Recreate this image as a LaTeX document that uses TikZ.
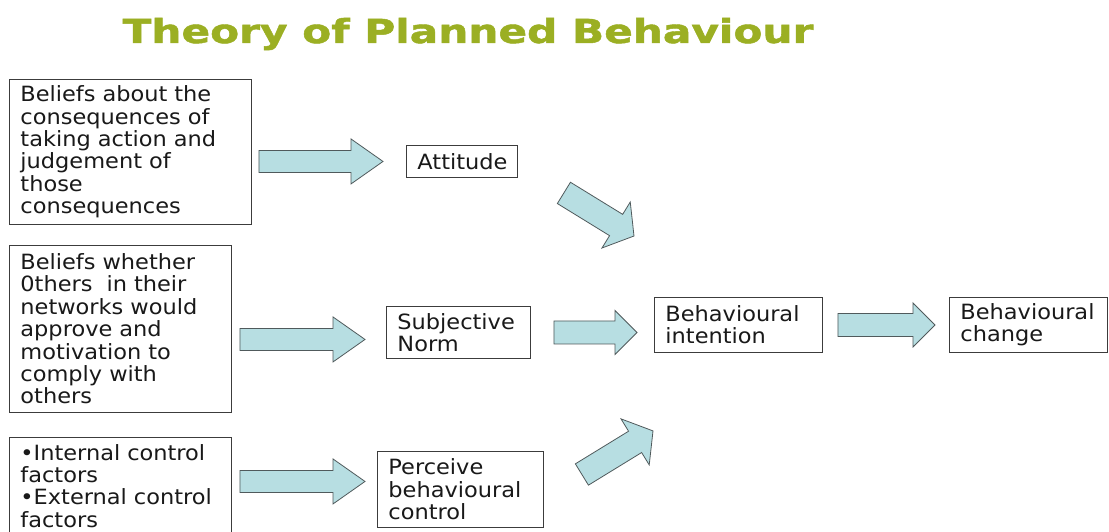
\documentclass[tikz,border=0pt]{standalone}
\usepackage{fontspec}
\setmainfont{DejaVu Sans}
\newfontfamily\boxfont{DejaVu Sans}[FakeStretch=1.07]
\newfontfamily\titlefont{DejaVu Sans}[BoldFeatures={FakeBold=1.3}]
\usetikzlibrary{calc}
\usepackage{xcolor}
\definecolor{titlegreen}{RGB}{155,175,35}
\definecolor{arrowblue}{RGB}{183,222,226}
\definecolor{arrowedge}{RGB}{80,90,92}
\definecolor{boxedge}{RGB}{60,60,60}

% block arrow: from, to, gap at start, gap at end
\newcommand{\arrowbody}{11pt}
\newcommand{\arrowwing}{22.5pt}
\newcommand{\arrowhead}{32pt}
\newcommand{\blockarrow}[4]{%
  \coordinate (ba-s) at ($(#1)!#3!(#2)$);
  \coordinate (ba-e) at ($(#2)!#4!(#1)$);
  \coordinate (ba-b) at ($(ba-e)!\arrowhead!(ba-s)$);
  \draw[blockarrow] ($(ba-s)!\arrowbody!90:(ba-e)$) -- ($(ba-b)!\arrowbody!90:(ba-e)$)
    -- ($(ba-b)!\arrowwing!90:(ba-e)$) -- (ba-e)
    -- ($(ba-b)!\arrowwing!-90:(ba-e)$) -- ($(ba-b)!\arrowbody!-90:(ba-e)$)
    -- ($(ba-s)!\arrowbody!-90:(ba-e)$) -- cycle;
}

\begin{document}
\begin{tikzpicture}[x=1pt,y=-1pt,
    box/.style={draw=boxedge, line width=0.9pt, anchor=north west, align=left,
      inner xsep=11pt, inner ysep=0pt, text=black!90,
      font=\boxfont\fontsize{21}{22.4}\selectfont},
    blockarrow/.style={fill=arrowblue, draw=arrowedge, line width=0.8pt, line join=miter},
    title/.style={anchor=base, inner sep=0pt, text=titlegreen, xscale=1.28, transform shape,
      font=\titlefont\fontsize{33}{36}\selectfont\bfseries}]
        \useasboundingbox (0,0) rectangle (1109,532);
        \clip (0,0) rectangle (1109,532);
        \fill[white] (0,0) rectangle (1109,532);

        % Title
        \node[title] (title) at (468,43) {Theory of Planned Behaviour};

        % Beliefs
        \node[box, text width=220pt, minimum height=145pt] (b1) at (9,79)
            {Beliefs about the\\consequences of\\taking action and\\judgement of\\those\\consequences};
        \node[box, text width=200pt, minimum height=167pt] (b2) at (9,245)
            {Beliefs whether\\0thers~ in their\\networks would\\approve and\\motivation to\\comply with\\others};
        \node[box, text width=200pt, minimum height=97pt] (b3) at (9,437)
            {•Internal control\\factors\\•External control\\factors};

        % Middle column
        \node[box, text width=89pt, minimum height=32pt] (att) at (406,145) {Attitude};
        \node[box, text width=122pt, minimum height=52pt] (sn) at (386,306) {Subjective\\Norm};
        \node[box, text width=144pt, minimum height=76pt] (pbc) at (377,451) {Perceive\\behavioural\\control};

        % Intention and change
        \node[box, text width=146pt, minimum height=55pt] (bi) at (654,297) {Behavioural\\intention};
        \node[box, text width=136pt, minimum height=55pt] (bc) at (949,297) {Behavioural\\change};

        % Arrows into the middle column
        \coordinate (sn-in) at ($(sn.west)+(0,7)$);
        \coordinate (pbc-in) at ($(pbc.west)+(0,-8)$);
        \blockarrow{b1.east |- att.west}{att.west}{7pt}{23pt}
        \blockarrow{b2.east |- sn-in}{sn-in}{8pt}{21pt}
        \blockarrow{b3.east |- pbc-in}{pbc-in}{8pt}{12pt}

        % Arrows into intention and change
        \renewcommand{\arrowbody}{11.5pt}
        \renewcommand{\arrowwing}{22pt}
        \renewcommand{\arrowhead}{22pt}
        \blockarrow{sn.east}{sn.east -| bi.west}{23pt}{17pt}
        \blockarrow{bi.east}{bi.east -| bc.west}{15pt}{14pt}

        % Diagonal arrows
        \renewcommand{\arrowbody}{12.5pt}
        \renewcommand{\arrowwing}{27pt}
        \renewcommand{\arrowhead}{21pt}
        \coordinate (att-out) at ($(att.south east)+(46,15)$);
        \coordinate (bi-top) at ($(bi.north west)+(-20,-61)$);
        \coordinate (pbc-out) at ($(pbc.north east)+(38,23.5)$);
        \coordinate (bi-bottom) at ($(bi.south west)+(-1,78)$);
        \blockarrow{att-out}{bi-top}{0pt}{0pt}
        \blockarrow{pbc-out}{bi-bottom}{0pt}{0pt}
    \end{tikzpicture}
\end{document}
